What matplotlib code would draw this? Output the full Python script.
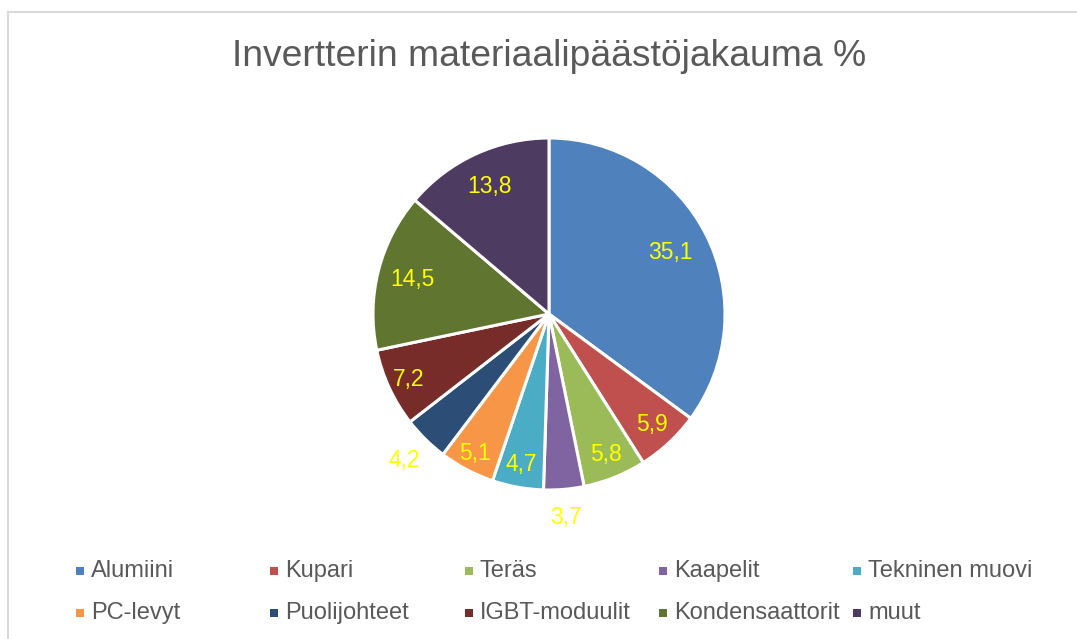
import matplotlib
matplotlib.use("Agg")
import matplotlib.pyplot as plt
import numpy as np
from matplotlib.patches import Rectangle
from matplotlib.lines import Line2D

categories = ["Alumiini", "Kupari", "Teräs", "Kaapelit", "Tekninen muovi",
              "PC-levyt", "Puolijohteet", "IGBT-moduulit", "Kondensaattorit", "muut"]
values = [35.1, 5.9, 5.8, 3.7, 4.7, 5.1, 4.2, 7.2, 14.5, 13.8]
value_labels = ["35,1", "5,9", "5,8", "3,7", "4,7", "5,1", "4,2", "7,2", "14,5", "13,8"]
title = "Invertterin materiaalipäästöjakauma %"

colors = ["#4F81BD", "#C0504D", "#9BBB59", "#8064A2", "#4BACC6",
          "#F79646", "#2C4D75", "#772C2A", "#5F7530", "#4D3B62"]
label_r = [0.77, 0.86, 0.86, 1.16, 0.87, 0.90, 1.17, 0.88, 0.80, 0.80]

plt.rcParams['font.family'] = ['Liberation Sans', 'DejaVu Sans']

W, H = 1077, 639
fig = plt.figure(figsize=(W / 100, H / 100), dpi=100)
fig.patch.set_facecolor("white")

# border lines (left and top)
fig.add_artist(Line2D([8 / W, 8 / W], [0, 1 - 12 / H], transform=fig.transFigure,
                      color="#D9D9D9", lw=1.5))
fig.add_artist(Line2D([8 / W, 1], [1 - 12 / H, 1 - 12 / H], transform=fig.transFigure,
                      color="#D9D9D9", lw=1.5))

cx, cy, R = 549, 314, 176
ax = fig.add_axes([(cx - R) / W, (H - cy - R) / H, 2 * R / W, 2 * R / H])
wedges, _ = ax.pie(values, startangle=90, counterclock=False, colors=colors,
                   radius=1, wedgeprops=dict(edgecolor="white", linewidth=2.2))
ax.set_xlim(-1, 1)
ax.set_ylim(-1, 1)
ax.axis("off")

for w, lab, r in zip(wedges, value_labels, label_r):
    ang = np.deg2rad((w.theta1 + w.theta2) / 2)
    ax.text(r * np.cos(ang), r * np.sin(ang), lab, color="#FFFF00",
            fontsize=16.5, ha="center", va="center")

fig.text(cx / W, 1 - 57 / H, title, ha="center", va="center",
         fontsize=26.8, color="#595959")

# legend
x0, dx = 80, 194.3
rows_y = [571, 613]
for i, (cat, col) in enumerate(zip(categories, colors)):
    c, r = i % 5, i // 5
    x = x0 + c * dx
    y = rows_y[r]
    s = 8
    fig.add_artist(Rectangle(((x - s / 2) / W, 1 - (y + s / 2) / H), s / W, s / H,
                             transform=fig.transFigure, facecolor=col, edgecolor="none"))
    fig.text((x + 11) / W, 1 - y / H, cat, ha="left", va="center",
             fontsize=17, color="#595959")

fig.savefig("out.png", dpi=100, facecolor="white")
